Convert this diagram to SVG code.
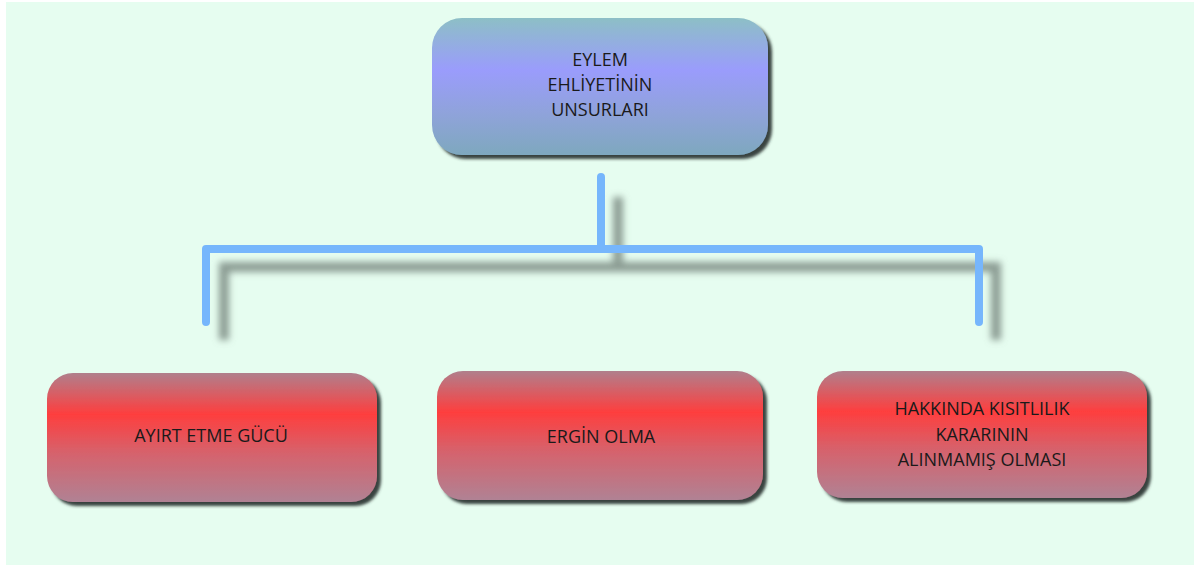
<svg xmlns="http://www.w3.org/2000/svg" width="1197" height="568" viewBox="0 0 1197 568">
<defs>
<linearGradient id="gBlue" x1="0" y1="0" x2="0" y2="1">
<stop offset="0" stop-color="#8DBFC6"/>
<stop offset="0.38" stop-color="#9A9CFC"/>
<stop offset="0.7" stop-color="#8FA3DA"/>
<stop offset="1" stop-color="#7EA8BE"/>
</linearGradient>
<linearGradient id="gRed" x1="0" y1="0" x2="0" y2="1">
<stop offset="0" stop-color="#B07F8C"/>
<stop offset="0.32" stop-color="#FE3E3E"/>
<stop offset="0.62" stop-color="#D6626C"/>
<stop offset="1" stop-color="#B08294"/>
</linearGradient>
<filter id="boxShadow" x="-10%" y="-10%" width="125%" height="130%">
<feDropShadow dx="4" dy="4" stdDeviation="1.6" flood-color="#2E3B35" flood-opacity="0.95"/>
</filter>
<filter id="lineShadow" x="-10%" y="-30%" width="120%" height="160%">
<feGaussianBlur stdDeviation="3.5"/>
</filter>
</defs>
<style>
.node text{font-family:"Open Sans","Liberation Sans",sans-serif;font-size:18px;fill:#1a1a1a;text-anchor:middle}
.conn{fill:none;stroke:#76B6FC;stroke-width:8;stroke-linecap:round;stroke-linejoin:round}
.connShadow{fill:none;stroke:#74847C;stroke-width:10;opacity:0.8}
</style>
<rect x="0" y="0" width="1197" height="568" fill="#FFFFFF"/>
<rect x="6" y="2" width="1188" height="563" fill="#E6FDF0"/>
<g id="connectors">
<g filter="url(#lineShadow)">
<path class="connShadow" d="M618 197 V267 M224 340 V267 H996 V340"/>
</g>
<path class="conn" d="M601 177 V249 M206 322 V249 H979 V322"/>
</g>
<g id="node-top" class="node">
<rect x="432" y="18" width="336" height="137" rx="30" fill="url(#gBlue)" filter="url(#boxShadow)"/>
<text x="600" y="66">EYLEM</text>
<text x="600" y="91">EHLİYETİNİN</text>
<text x="600" y="116">UNSURLARI</text>
</g>
<g id="node-left" class="node">
<rect x="47" y="373" width="330" height="129" rx="26" fill="url(#gRed)" filter="url(#boxShadow)"/>
<text x="211" y="442">AYIRT ETME GÜCÜ</text>
</g>
<g id="node-middle" class="node">
<rect x="437" y="371" width="326" height="129" rx="26" fill="url(#gRed)" filter="url(#boxShadow)"/>
<text x="601" y="443">ERGİN OLMA</text>
</g>
<g id="node-right" class="node">
<rect x="817" y="371" width="330" height="127" rx="26" fill="url(#gRed)" filter="url(#boxShadow)"/>
<text x="982" y="415">HAKKINDA KISITLILIK</text>
<text x="982" y="441">KARARININ</text>
<text x="982" y="466">ALINMAMIŞ OLMASI</text>
</g>
</svg>
